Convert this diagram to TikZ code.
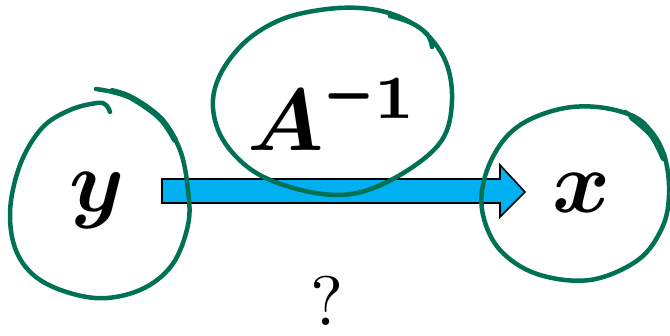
\documentclass[tikz,border=0pt]{standalone}
\usepackage{bm}
\usepackage{graphicx}
\definecolor{penGreen}{RGB}{0,113,83}
\definecolor{arrowCyan}{RGB}{0,176,240}
\tikzset{
  pen/.style={draw=penGreen, line width=4.5pt, line cap=round, line join=round},
  bigmath/.style={inner sep=0pt, scale=8.8},
  blockarrow/.style={draw=black, line width=1.6pt, fill=arrowCyan, line join=miter}
}
\begin{document}
\begin{tikzpicture}[x=1pt,y=-1pt]
\useasboundingbox (0,0) rectangle (670,336);

% arrow end points
\coordinate (arS) at (162,191);
\coordinate (arE) at (525,192);
\path[blockarrow] (arS) ++(0,-12) -- ++(338,0) -- ++(0,-14) -- (arE)
  -- ++(-25,25) -- ++(0,-14) -- ++(-338,0) -- cycle;

% labels
\node[bigmath] (y) at (97,201) {$\bm{y}$};
\node[bigmath] (A) at (333,107) {$\bm{A}^{\scalebox{0.65}[1]{$\bm{-}$}\bm{1}}$};
\node[bigmath] (x) at (581,193) {$\bm{x}$};
\node[inner sep=0pt, scale=7.0] (q) at (327,301) {?};

% hand-drawn circle round y
\draw[pen] plot[smooth, tension=0.6] coordinates {
 (110,112) (106,105) (97,103) (70,110) (42,128) (20,165) (10,213) (18,255)
 (45,283) (95,298) (140,290) (172,265) (188,225) (188,190) (180,150)
 (160,118) (130,97) (96,89)};
\draw[pen, line width=6pt] plot[smooth, tension=0.6] coordinates {
 (112,91) (132,98) (160,118) (175,140)};

% hand-drawn ellipse round A^{-1}
\draw[pen] plot[smooth, tension=0.6] coordinates {
 (390,16) (420,28) (445,60) (452,100) (442,140) (405,172) (357,193)
 (310,192) (258,174) (225,143) (213,108) (220,75) (245,42) (280,20)
 (320,10) (360,8) (395,15) (425,32) (432,47)};

% hand-drawn circle round x
\draw[pen] plot[smooth, tension=0.6] coordinates {
 (625,112) (650,130) (665,158) (669,195) (662,228) (638,260) (590,280)
 (537,274) (500,250) (483,215) (484,180) (500,145) (525,122) (565,108)
 (605,108) (640,120) (660,145)};
\draw[pen, line width=7pt] plot[smooth, tension=0.6] coordinates {
 (632,117) (652,135) (664,158)};
\end{tikzpicture}
\end{document}
